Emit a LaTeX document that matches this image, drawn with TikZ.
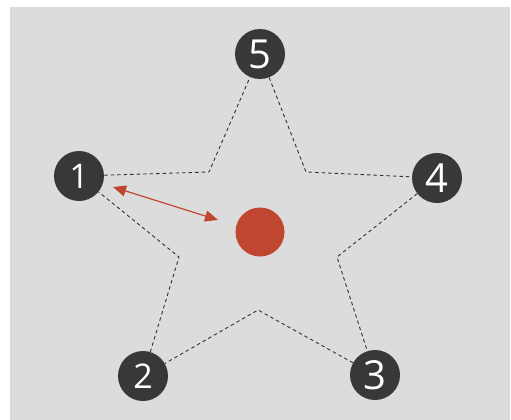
\documentclass[tikz,border=0pt]{standalone}
\usepackage{fontspec}
\setmainfont{Open Sans}
\usetikzlibrary{arrows.meta}
\definecolor{bgg}{HTML}{DCDCDC}
\definecolor{nodedark}{HTML}{383838}
\definecolor{redc}{HTML}{C0462F}
\tikzset{
  num/.style={circle, fill=nodedark, minimum size=50pt, inner sep=0pt, text=white, font=\fontsize{40}{40}\selectfont},
  numsmall/.style={num, font=\fontsize{34}{34}\selectfont},
  starline/.style={draw=black!80, line width=0.9pt, dash pattern=on 3.5pt off 3pt},
  redarrow/.style={draw=redc, line width=1.2pt, {Triangle[length=13pt,width=11pt]}-{Triangle[length=13pt,width=11pt]}, color=redc},
}
\begin{document}
\begin{tikzpicture}[x=1pt,y=-1pt]
\useasboundingbox (0,0) rectangle (511,420);
\fill[bgg] (10,7) rectangle (510,420);
\node[num] (n5) at (260,54) {5};
\node[numsmall] (n1) at (79,176) {1};
\node[num] (n4) at (437,178) {4};
\node[numsmall] (n2) at (143,376) {2};
\node[num] (n3) at (375,375) {3};
\node[circle, fill=redc, minimum size=49pt, inner sep=0pt] (dot) at (260,232) {};
\coordinate (i15) at (209,172);
\coordinate (i54) at (306,172);
\coordinate (i43) at (337,257);
\coordinate (i32) at (258,310);
\coordinate (i21) at (179,257);
\draw[starline] (n1) -- (i15) -- (n5);
\draw[starline] (n5) -- (i54) -- (n4);
\draw[starline] (n4) -- (i43) -- (n3);
\draw[starline] (n3) -- (i32) -- (n2);
\draw[starline] (n2) -- (i21) -- (n1);
\coordinate (a1) at (113,187);
\coordinate (a2) at (218,220);
\draw[redarrow] (a1) -- (a2);
\end{tikzpicture}
\end{document}
